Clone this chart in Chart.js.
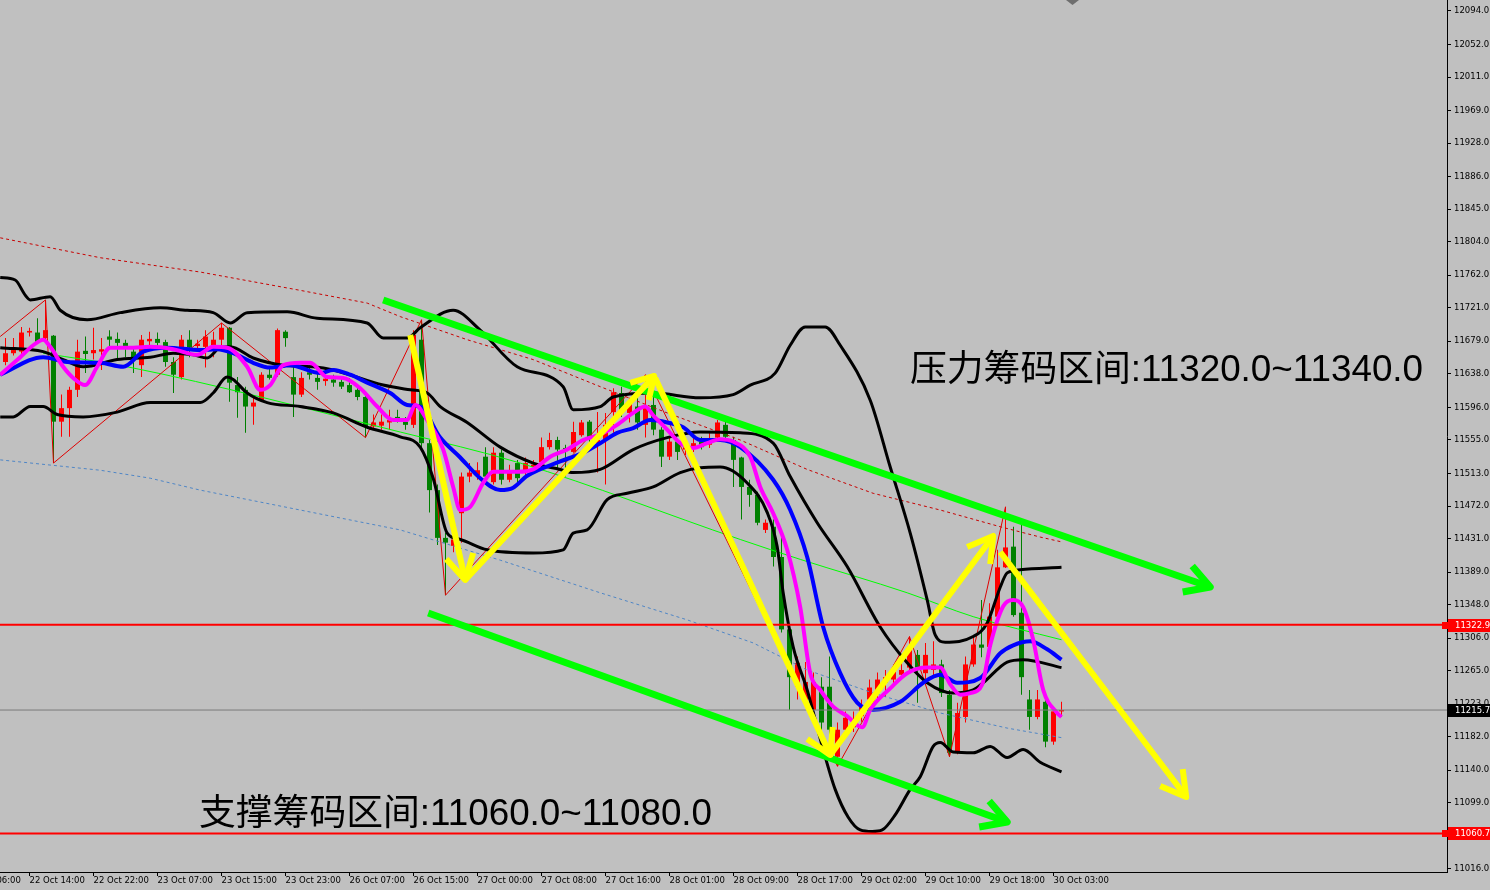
<!DOCTYPE html>
<html><head><meta charset="utf-8">
<script src="https://cdn.jsdelivr.net/npm/chart.js@4.4.1/dist/chart.umd.min.js"></script>
<style>html,body{margin:0;padding:0;background:#c0c0c0;overflow:hidden}canvas{display:block}</style>
</head><body>
<canvas id="c" width="1490" height="890"></canvas>
<script>
// ---- time axis (H1 bars, index 0 = 22 Oct 11:00) ----
const timeLabelBars = [-5,3,11,19,27,35,43,51,59,67,75,83,91,99,107,115,123,131];
const timeLabels = ['22 Oct 06:00','22 Oct 14:00','22 Oct 22:00','23 Oct 07:00','23 Oct 15:00','23 Oct 23:00','26 Oct 07:00','26 Oct 15:00','27 Oct 00:00','27 Oct 08:00','27 Oct 16:00','28 Oct 01:00','28 Oct 09:00','28 Oct 17:00','29 Oct 02:00','29 Oct 10:00','29 Oct 18:00','30 Oct 03:00'];
// ---- price axis ticks ----
const priceTicks = [12094,12052,12011,11969,11928,11886,11845,11804,11762,11721,11679,11638,11596,11555,11513,11472,11431,11389,11348,11306,11265,11223,11182,11140,11099,11057,11016];

// ---- candles ----
const opens  = [11653,11664,11666,11690,11690,11683,11686,11578,11595,11618,11667,11664,11666,11685,11682,11677,11666,11649,11679,11682,11678,11653,11634,11681,11673,11672,11674,11681,11696,11624,11618,11597,11605,11637,11637,11691,11634,11612,11640,11633,11629,11631,11628,11624,11618,11609,11572,11573,11577,11584,11578,11574,11681,11551,11492,11432,11422,11463,11509,11511,11534,11502,11539,11505,11526,11514,11521,11527,11546,11555,11545,11540,11561,11578,11551,11555,11590,11614,11589,11597,11574,11599,11568,11534,11553,11543,11545,11553,11549,11558,11574,11555,11533,11496,11486,11442,11446,11408,11317,11245,11225,11216,11245,11245,11157,11191,11194,11208,11229,11241,11250,11254,11260,11269,11285,11262,11266,11273,11235,11162,11207,11273,11298,11295,11333,11395,11421,11338,11229,11207,11226,11176,11214];
const highs  = [11683,11683,11697,11696,11708,11731,11687,11612,11622,11681,11685,11696,11683,11693,11690,11681,11672,11687,11691,11690,11681,11659,11687,11693,11681,11693,11691,11702,11697,11634,11622,11609,11640,11646,11695,11693,11647,11640,11649,11640,11636,11637,11633,11633,11624,11614,11587,11587,11593,11593,11584,11693,11706,11555,11499,11438,11442,11514,11526,11527,11546,11546,11543,11524,11530,11533,11530,11558,11564,11559,11549,11578,11580,11580,11590,11589,11620,11622,11608,11612,11637,11624,11571,11559,11555,11551,11558,11559,11565,11580,11578,11559,11534,11505,11490,11455,11455,11433,11321,11283,11276,11263,11257,11283,11200,11214,11214,11229,11254,11263,11266,11273,11275,11308,11291,11300,11302,11279,11241,11225,11283,11310,11354,11350,11417,11471,11446,11451,11241,11241,11232,11218,11226];
const lows   = [11649,11661,11662,11685,11676,11681,11526,11559,11559,11609,11639,11656,11643,11671,11658,11659,11639,11634,11674,11672,11647,11614,11631,11659,11666,11646,11659,11674,11603,11583,11564,11574,11603,11631,11634,11672,11584,11609,11631,11618,11623,11622,11619,11614,11605,11558,11568,11568,11568,11577,11568,11570,11545,11464,11423,11360,11414,11426,11502,11505,11502,11499,11499,11502,11502,11507,11517,11526,11543,11517,11509,11539,11559,11549,11514,11499,11564,11584,11577,11568,11558,11561,11521,11530,11530,11536,11540,11543,11545,11553,11553,11496,11455,11471,11448,11438,11396,11313,11216,11229,11220,11200,11191,11157,11145,11182,11188,11201,11220,11225,11232,11247,11254,11264,11225,11254,11257,11232,11157,11160,11200,11270,11282,11291,11329,11394,11333,11235,11191,11204,11169,11172,11207];
const closes = [11664,11668,11690,11692,11678,11693,11578,11595,11618,11666,11663,11668,11669,11681,11677,11672,11656,11681,11682,11677,11653,11637,11681,11671,11676,11685,11681,11696,11627,11615,11597,11602,11637,11633,11693,11683,11612,11633,11637,11628,11632,11627,11622,11615,11609,11572,11577,11578,11580,11580,11574,11687,11551,11492,11432,11426,11430,11509,11514,11517,11509,11539,11505,11515,11507,11526,11524,11546,11555,11543,11541,11565,11577,11558,11555,11574,11615,11589,11602,11577,11597,11568,11534,11553,11540,11546,11551,11546,11555,11577,11559,11530,11496,11486,11451,11451,11408,11317,11257,11275,11251,11251,11200,11191,11191,11206,11204,11220,11244,11254,11257,11264,11266,11295,11269,11285,11273,11237,11162,11212,11273,11298,11294,11333,11395,11420,11335,11257,11207,11229,11176,11214,11215.7];

// ---- indicator lines [bar, price] ----
const bbUpper = [[-0.66,11759],[1.21,11756],[2.46,11737],[3.09,11731],[5.59,11735],[6.84,11718],[10.21,11706],[14.34,11715],[19.34,11721],[22.71,11718],[25.96,11715],[28.09,11702],[30.21,11715],[35.21,11716],[38.96,11708],[45.21,11702],[47.21,11683],[50.21,11683],[51.84,11696],[55.96,11718],[59.34,11693],[63.96,11647],[69.71,11622],[70.96,11593],[74.34,11597],[75.96,11609],[80.96,11614],[86.84,11608],[90.96,11612],[93.09,11624],[96.21,11639],[98.09,11674],[99.96,11697],[102.46,11697],[104.34,11674],[108.09,11605],[110.59,11521],[113.09,11438],[115.21,11354],[116.21,11310],[117.46,11301],[120.96,11308],[122.71,11325],[124.34,11370],[125.21,11388],[126.84,11392],[132,11395]];
const bbMiddle = [[-0.66,11671],[4.71,11666],[7.21,11656],[9.71,11647],[13.96,11656],[18.09,11659],[20.96,11664],[23.46,11662],[25.21,11658],[26.84,11671],[28.09,11672],[30.96,11658],[34.71,11649],[38.46,11647],[40.96,11643],[47.21,11624],[50.59,11618],[52.71,11614],[54.34,11597],[57.71,11577],[61.84,11546],[65.96,11526],[69.34,11518],[70.96,11514],[74.34,11518],[78.46,11543],[82.71,11558],[86.84,11565],[91.84,11564],[95.96,11551],[98.09,11509],[101.46,11451],[105.21,11396],[109.34,11320],[112.71,11275],[115.21,11250],[118.46,11237],[120.96,11241],[122.21,11250],[125.21,11276],[127.21,11279],[132,11269]];
const bbLower = [[-0.66,11584],[0.96,11584],[3.09,11597],[4.71,11597],[6.46,11587],[9.71,11584],[13.96,11590],[18.09,11602],[24.34,11602],[25.96,11614],[27.71,11634],[28.46,11631],[30.21,11614],[32.71,11602],[36.84,11597],[40.96,11589],[45.21,11571],[49.34,11559],[51.84,11546],[53.46,11507],[55.21,11438],[56.84,11430],[60.21,11417],[65.96,11413],[69.71,11417],[70.96,11438],[72.71,11442],[75.21,11480],[77.71,11488],[80.96,11496],[84.34,11514],[86.84,11520],[89.34,11521],[92.71,11501],[95.21,11464],[96.46,11421],[97.21,11363],[98.46,11295],[100.21,11241],[102.21,11166],[103.71,11116],[105.34,11081],[106.84,11065],[108.34,11063],[109.59,11065],[111.21,11084],[113.09,11116],[114.34,11132],[115.96,11170],[116.84,11175],[118.46,11163],[120.96,11162],[123.09,11170],[125.21,11156],[127.21,11166],[129.34,11150],[132,11138]];
const maBlue = [[-0.66,11637],[4.71,11659],[7.71,11653],[11.84,11652],[14.71,11647],[17.21,11666],[20.21,11671],[24.34,11668],[26.46,11669],[28.46,11664],[30.96,11652],[33.09,11646],[35.59,11649],[39.34,11639],[40.96,11643],[43.09,11637],[45.21,11627],[48.09,11614],[50.21,11599],[51.84,11597],[54.34,11558],[56.84,11533],[59.34,11507],[61.84,11492],[63.46,11495],[65.21,11510],[69.34,11528],[72.21,11539],[74.34,11551],[76.46,11564],[78.46,11570],[80.59,11580],[82.71,11577],[84.71,11571],[86.84,11555],[89.34,11555],[91.84,11546],[95.96,11505],[98.09,11467],[100.21,11408],[102.21,11320],[104.34,11262],[106.46,11225],[108.46,11216],[111.84,11226],[114.71,11250],[116.84,11260],[118.96,11250],[121.84,11256],[124.34,11287],[125.96,11297],[128.09,11302],[130.21,11292],[132,11279]];
const maMagenta = [[-0.66,11637],[1.84,11659],[3.46,11674],[4.71,11681],[5.59,11672],[7.21,11647],[8.46,11633],[9.96,11624],[11.46,11647],[13.09,11671],[15.96,11671],[18.09,11672],[20.96,11669],[23.96,11662],[25.96,11672],[27.71,11671],[30.21,11647],[31.84,11618],[33.09,11624],[34.71,11649],[36.84,11652],[38.09,11652],[40.21,11634],[42.21,11633],[44.34,11620],[46.46,11597],[48.46,11580],[50.21,11580],[51.21,11599],[52.71,11580],[54.71,11543],[55.96,11496],[56.84,11467],[58.09,11471],[59.71,11501],[60.96,11515],[63.96,11515],[65.96,11518],[68.09,11534],[70.21,11543],[72.21,11555],[74.34,11562],[76.46,11574],[78.46,11589],[79.96,11597],[80.96,11586],[82.71,11568],[84.34,11551],[85.96,11545],[87.71,11551],[89.34,11556],[90.96,11553],[93.09,11534],[94.34,11496],[95.96,11463],[97.71,11417],[99.34,11345],[100.59,11262],[101.84,11241],[103.46,11220],[105.21,11208],[107.09,11194],[108.09,11216],[110.59,11243],[112.71,11262],[115.21,11269],[116.84,11269],[118.09,11248],[119.34,11235],[120.59,11237],[122.09,11248],[123.09,11297],[124.71,11346],[125.96,11354],[127.21,11345],[128.46,11304],[129.71,11241],[131.46,11212],[132,11207]];
const redDotted = [[-0.66,11809],[11.84,11784],[24.34,11766],[36.84,11743],[45.21,11727],[49.34,11710],[57.71,11681],[65.96,11656],[74.34,11622],[82.71,11589],[91.84,11555],[100.21,11518],[108.46,11488],[116.84,11467],[124.34,11446],[129.34,11433],[132,11427]];
const blueDotted = [[-0.66,11530],[11.84,11517],[18.09,11507],[24.34,11492],[36.84,11467],[49.34,11442],[61.84,11404],[74.34,11363],[85.21,11329],[93.46,11300],[100.21,11266],[108.46,11237],[116.84,11212],[125.21,11193],[132,11181]];
const greenThin = [[4.71,11664],[15.21,11647],[49.34,11565],[64.34,11526],[91.84,11430],[99.34,11405],[112.71,11363],[120.96,11333],[132,11304]];
const zigzag = [[-0.66,11685],[5,11731],[6,11526],[27,11702],[45,11558],[52,11706],[55,11360],[80,11637],[104,11145],[113,11308],[118,11157],[125,11471]];

// ---- drawn arrows [bar, price] ----
const greenUpper = [[47.21,11730.9],[150.59,11370.3]];
const greenUpperHead = [[148.34,11396.7],[150.59,11370.3],[147.15,11364.0]];
const greenLower = [[52.84,11337.6],[125.21,11075.0]];
const greenLowerHead = [[122.96,11101.4],[125.21,11075.0],[121.71,11068.8]];
const yellow1 = [[50.59,11686.9],[57.46,11379.1]];
const yellow1Head = [[58.46,11413.0],[57.46,11379.1],[55.09,11405.5]];
const yellow2 = [[57.46,11379.1],[81.09,11635.4]];
const yellow2Head = [[78.09,11626.6],[81.09,11635.4],[80.40,11605.2]];
const yellow3 = [[81.21,11632.9],[103.09,11159.2]];
const yellow3Head = [[103.40,11194.4],[103.09,11159.2],[100.21,11179.3]];
const yellow4 = [[103.09,11159.2],[123.46,11434.4]];
const yellow4Head = [[120.21,11420.5],[123.46,11434.4],[123.09,11399.2]];
const yellow5 = [[124.34,11414.3],[147.59,11106.4]];
const yellow5Head = [[147.15,11141.6],[147.59,11106.4],[144.34,11120.3]];

// ---- levels & notes ----
const resistanceLevel = 11322.9;
const supportLevel = 11060.7;
const bidPrice = 11215.7;
const resistanceText = '压力筹码区间:11320.0~11340.0';
const supportText = '支撑筹码区间:11060.0~11080.0';

const X_MIN = -0.6875, X_MAX = 180.1875;
const Y_MIN = 11012.2, Y_MAX = 12107.8;
const UP = '#ff0000', DOWN = '#008000';

const pts = a => a.map(p => ({x: p[0], y: p[1]}));
const candleColors = opens.map((o, i) => closes[i] >= o ? UP : DOWN);

function lineDs(data, color, width, order, extra) {
  return Object.assign({type: 'line', data: pts(data), borderColor: color, borderWidth: width,
    pointRadius: 0, fill: false, tension: 0, order: order, borderJoinStyle: 'round'}, extra || {});
}
const smooth = {cubicInterpolationMode: 'monotone'};
const hline = (lvl, color, width, order) => lineDs([[X_MIN, lvl], [X_MAX, lvl]], color, width, order);

const datasets = [
  {type: 'bar', data: opens.map((o, i) => ({x: i, y: [lows[i], highs[i]]})), backgroundColor: candleColors,
   barThickness: 1, maxBarThickness: 1, grouped: false, inflateAmount: 0, borderWidth: 0, order: 30},
  {type: 'bar', data: opens.map((o, i) => ({x: i, y: [o, closes[i]]})), backgroundColor: candleColors,
   barThickness: 5, maxBarThickness: 5, grouped: false, inflateAmount: 0, borderWidth: 0, minBarLength: 1, order: 29},
  lineDs(redDotted, '#c80000', 1, 25, {borderDash: [3, 3]}),
  lineDs(blueDotted, '#4f86c6', 1, 25, {borderDash: [3, 3]}),
  lineDs(greenThin, '#00ff00', 1, 24, smooth),
  lineDs(zigzag, '#e00000', 1, 23),
  lineDs(bbUpper, '#000000', 3, 20, smooth),
  lineDs(bbMiddle, '#000000', 3, 20, smooth),
  lineDs(bbLower, '#000000', 3, 20, smooth),
  lineDs(maBlue, '#0000ff', 4, 18, smooth),
  lineDs(maMagenta, '#ff00ff', 4, 17, smooth),
  hline(bidPrice, '#7a7a7a', 1, 12),
  hline(resistanceLevel, '#ff0000', 2, 11),
  hline(supportLevel, '#ff0000', 2, 11),
  lineDs(greenUpper, '#00ff00', 7, 3),
  lineDs(greenUpperHead, '#00ff00', 7, 3),
  lineDs(greenLower, '#00ff00', 7, 3),
  lineDs(greenLowerHead, '#00ff00', 7, 3),
  lineDs(yellow1, '#ffff00', 6, 2),
  lineDs(yellow1Head, '#ffff00', 6, 2),
  lineDs(yellow2, '#ffff00', 6, 2),
  lineDs(yellow2Head, '#ffff00', 6, 2),
  lineDs(yellow3, '#ffff00', 6, 2),
  lineDs(yellow3Head, '#ffff00', 6, 2),
  lineDs(yellow4, '#ffff00', 6, 2),
  lineDs(yellow4Head, '#ffff00', 6, 2),
  lineDs(yellow5, '#ffff00', 6, 2),
  lineDs(yellow5Head, '#ffff00', 6, 2)
];

const axisFont = {family: '"DejaVu Sans", sans-serif', size: 8.5};

const overlay = {
  id: 'overlay',
  beforeDraw(chart) {
    const c = chart.ctx; c.save(); c.fillStyle = '#c0c0c0'; c.fillRect(0, 0, chart.width, chart.height); c.restore();
  },
  afterDraw(chart) {
    const c = chart.ctx, ys = chart.scales.y, area = chart.chartArea;
    c.save();
    const tag = (price, bg, marker) => {
      const py = Math.round(ys.getPixelForValue(price));
      c.fillStyle = bg;
      c.fillRect(area.right + 1, py - 6, chart.width - area.right - 1, 13);
      if (marker) c.fillRect(area.right - 5, py - 3, 6, 7);
      c.fillStyle = '#ffffff';
      c.font = '8.5px "DejaVu Sans", sans-serif';
      c.textAlign = 'left'; c.textBaseline = 'middle';
      c.fillText(price.toFixed(1), area.right + 8, py + 0.5);
    };
    tag(resistanceLevel, '#ff0000', true);
    tag(supportLevel, '#ff0000', true);
    tag(bidPrice, '#000000', false);
    // chart shift marker
    c.fillStyle = '#6e6e6e';
    c.beginPath(); c.moveTo(1066, 0); c.lineTo(1079, 0); c.lineTo(1072.5, 5); c.closePath(); c.fill();
    // notes
    c.fillStyle = '#000000';
    c.font = '36.8px "Liberation Sans", "Noto Sans CJK SC", sans-serif';
    c.textAlign = 'left'; c.textBaseline = 'middle';
    c.fillText(resistanceText, 910, 371);
    c.fillText(supportText, 199, 815);
    c.restore();
  }
};

new Chart(document.getElementById('c'), {
  type: 'bar',
  data: {datasets},
  plugins: [overlay],
  options: {
    responsive: false, animation: false, devicePixelRatio: 1,
    layout: {padding: 0},
    plugins: {legend: {display: false}, tooltip: {enabled: false}},
    events: [],
    scales: {
      x: {
        type: 'linear', position: 'bottom', min: X_MIN, max: X_MAX, offset: false,
        grid: {display: true, offset: false, drawOnChartArea: false, drawTicks: true, tickLength: 4, color: '#000', lineWidth: 1},
        border: {display: true, color: '#000', width: 1},
        ticks: {autoSkip: false, maxRotation: 0, minRotation: 0, align: 'start', padding: 0, color: '#000', font: axisFont,
          callback: (v) => { const i = timeLabelBars.indexOf(v); return i >= 0 ? timeLabels[i] : ''; }},
        afterBuildTicks: (s) => { s.ticks = timeLabelBars.map(v => ({value: v})); },
        afterFit: (s) => { s.height = 18; s.paddingLeft = 0; s.paddingRight = 0; }
      },
      y: {
        type: 'linear', position: 'right', min: Y_MIN, max: Y_MAX,
        grid: {display: true, drawOnChartArea: false, drawTicks: true, tickLength: 4, color: '#000', lineWidth: 1},
        border: {display: true, color: '#000', width: 1},
        ticks: {autoSkip: false, padding: 3, color: '#000', font: axisFont, callback: (v) => Number(v).toFixed(1)},
        afterBuildTicks: (s) => { s.ticks = priceTicks.map(v => ({value: v})); },
        afterFit: (s) => { s.width = 43; s.paddingTop = 0; s.paddingBottom = 0; }
      }
    }
  }
});
</script>
</body></html>
